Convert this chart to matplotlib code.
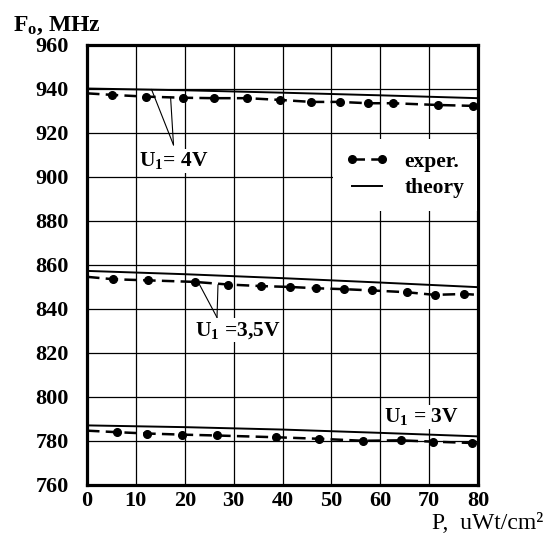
import matplotlib
matplotlib.use("Agg")
import matplotlib.pyplot as plt
from matplotlib.lines import Line2D

plt.rcParams["font.family"] = "Liberation Serif"
plt.rcParams["mathtext.fontset"] = "custom"
plt.rcParams["mathtext.rm"] = "Liberation Serif:bold"
plt.rcParams["mathtext.it"] = "Liberation Serif:bold"
plt.rcParams["mathtext.bf"] = "Liberation Serif:bold"

# experimental points, P in uWt/cm2, F0 in MHz
p_exp_4 = [5.1, 12.1, 19.7, 26.0, 32.8, 39.5, 45.9, 51.7, 57.5, 62.6, 71.8, 78.9]
f_exp_4 = [937.3, 936.5, 936.0, 935.8, 935.8, 935.0, 934.1, 934.1, 933.5, 933.5, 932.7, 932.3]
p_exp_35 = [5.4, 12.5, 22.0, 28.9, 35.5, 41.5, 46.9, 52.5, 58.4, 65.4, 71.1, 77.2]
f_exp_35 = [853.4, 852.9, 852.2, 851.0, 850.3, 849.9, 849.3, 848.9, 848.3, 847.5, 846.3, 846.7]
p_exp_3 = [6.2, 12.3, 19.4, 26.5, 38.7, 47.5, 56.5, 64.2, 70.8, 78.7]
f_exp_3 = [783.8, 783.2, 782.7, 782.3, 781.5, 780.8, 779.9, 780.1, 779.5, 778.9]

# dashed exper. line starts at P=0 and runs to P=80
exp_start = [938.0, 854.5, 784.5]
exp_end = [932.1, 846.3, 778.8]

# theory curves
p_th = [0, 20, 40, 60, 80]
f_th_4 = [940.2, 939.4, 938.3, 937.1, 935.8]
f_th_35 = [857.2, 855.7, 853.9, 851.9, 849.8]
f_th_3 = [786.9, 786.1, 785.0, 783.5, 781.9]

x_ticks = [0, 10, 20, 30, 40, 50, 60, 70, 80]
y_ticks = [760, 780, 800, 820, 840, 860, 880, 900, 920, 940, 960]

fig = plt.figure(figsize=(5.48, 5.36), dpi=100)
ax = fig.add_axes([87 / 548, 1 - 484.5 / 536, (478 - 87) / 548, (484.5 - 45) / 536])

ax.set_xlim(0, 80)
ax.set_ylim(760, 960)
ax.set_xticks(x_ticks)
ax.set_yticks(y_ticks)
ax.grid(True, color="black", lw=0.9)
ax.set_axisbelow(True)
for s in ax.spines.values():
    s.set_linewidth(2.3)
ax.tick_params(length=0, labelsize=16)
ax.tick_params(axis="y", pad=13)
ax.tick_params(axis="x", pad=5)
for lab in ax.get_xticklabels() + ax.get_yticklabels():
    lab.set_fontweight("bold")

exp_sets = [(p_exp_4, f_exp_4), (p_exp_35, f_exp_35), (p_exp_3, f_exp_3)]
for (px, fy), f0, f1 in zip(exp_sets, exp_start, exp_end):
    xs = [0] + px + [80]
    ys = [f0] + fy + [f1]
    ax.plot(xs, ys, color="black", lw=1.8, dashes=(5, 2.5),
            marker="o", ms=5.5, markevery=list(range(1, len(px) + 1)), zorder=3)

for fy in [f_th_4, f_th_35, f_th_3]:
    ax.plot(p_th, fy, color="black", lw=1.4, zorder=3)

# labels with pointer lines
box = dict(facecolor="white", edgecolor="none", pad=1)
ax.text(17.8, 912, r"$\mathrm{U_1}$= 4V", ha="center", va="top",
        fontsize=15.5, fontweight="bold", bbox=box, zorder=2)
for xy in [(13.2, 939.8), (17.1, 936.3)]:
    ax.annotate("", xy=xy, xytext=(17.7, 914.5),
                arrowprops=dict(arrowstyle="-", lw=0.8, color="black",
                                shrinkA=0, shrinkB=0))

ax.text(30.9, 835, r"$\mathrm{U_1}$ =3,5V", ha="center", va="top",
        fontsize=15.5, fontweight="bold", bbox=box, zorder=2)
for xy in [(22.8, 851.9), (26.8, 850.9)]:
    ax.annotate("", xy=xy, xytext=(26.6, 836),
                arrowprops=dict(arrowstyle="-", lw=0.8, color="black",
                                shrinkA=0, shrinkB=0))

ax.text(68.5, 790.8, r"$\mathrm{U_1}$ = 3V", ha="center", va="center",
        fontsize=15.5, fontweight="bold", bbox=box, zorder=2)

handles = [
    Line2D([], [], color="black", lw=1.8, dashes=(5, 2.5), marker="o", ms=5.5),
    Line2D([], [], color="black", lw=1.4),
]
leg = ax.legend(handles, ["exper.", "theory"], loc="upper left",
                bbox_to_anchor=(0.629, 0.787), numpoints=2, frameon=True,
                fancybox=False, facecolor="white", edgecolor="none", framealpha=1,
                borderaxespad=0, borderpad=0.6, handlelength=2.0,
                handletextpad=0.72, labelspacing=0.3,
                prop=dict(family="Liberation Serif", weight="bold", size=15.5))
leg.set_zorder(4)

fig.text(13 / 548, 1 - 31.4 / 536, r"$\mathrm{F_o}$, MHz", ha="left", va="baseline",
         fontsize=17, fontweight="bold")
fig.text(543 / 548, 1 - 529 / 536, "P,  uWt/cm\u00b2", ha="right", va="baseline",
         fontsize=17)

fig.savefig("out.png", dpi=100)
